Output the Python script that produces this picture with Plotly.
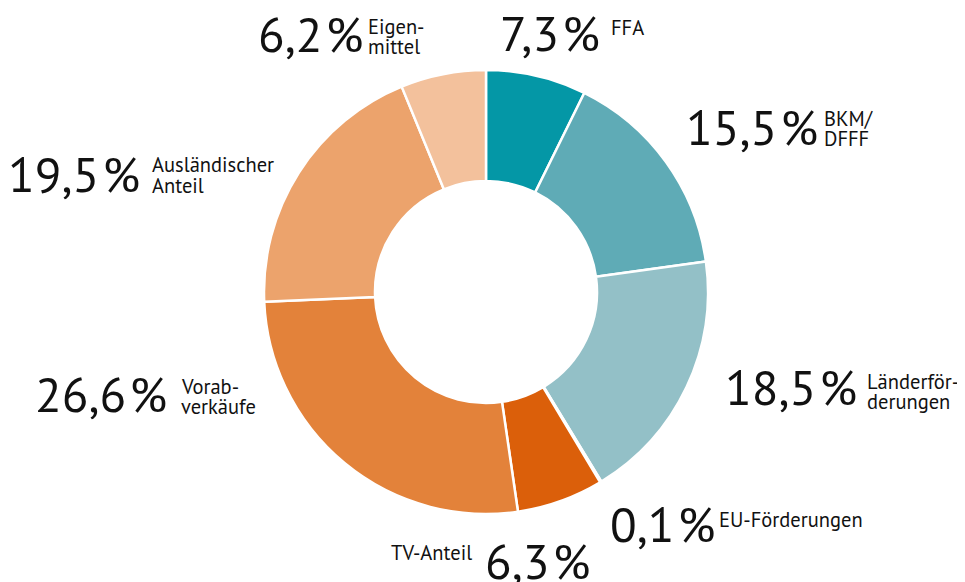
import plotly.graph_objects as go

categories = ["FFA", "BKM/<br>DFFF", "Länderför-<br>derungen", "EU-Förderungen",
              "TV-Anteil", "Vorab-<br>verkäufe", "Ausländischer<br>Anteil", "Eigen-<br>mittel"]
values = [7.3, 15.5, 18.5, 0.1, 6.3, 26.6, 19.5, 6.2]
colors = ["#0497a6", "#5fabb6", "#93c0c7", "#b9d7db",
          "#db5f0a", "#e3823a", "#eca36c", "#f3c19c"]

W, H = 965, 582
OFF = 8  # page body margin
# annotation layout in page pixels:
# (number x-left, number y-center, label x, first label line y-center, label anchor)
label_pos = [
    (499, 33, 610, 27, "left"),
    (685, 127, 823, 117, "left"),
    (724, 387, 866, 380, "left"),
    (609, 524, 718, 518, "left"),
    (484, 561, 473, 551, "right"),
    (34, 394, 180, 385, "left"),
    (7, 174, 151, 164, "left"),
    (257, 34, 367, 26, "left"),
]
LINE = 20

cx, cy, r = 486 - OFF, 292 - OFF, 222

fig = go.Figure(go.Pie(
    values=values, labels=[c.replace("<br>", "") for c in categories],
    marker=dict(colors=colors, line=dict(color="white", width=2.5)),
    hole=0.5, sort=False, direction="clockwise", rotation=0,
    textinfo="none", hoverinfo="label+percent", showlegend=False,
    domain=dict(x=[(cx - r) / W, (cx + r) / W], y=[1 - (cy + r) / H, 1 - (cy - r) / H]),
))

FONT = "PT Sans, Noto Sans, sans-serif"
anns = []
for cat, v, (nx, ny, lx, ly, anc) in zip(categories, values, label_pos):
    txt = f"{v:.1f}".replace(".", ",") + "\u200a%"
    anns.append(dict(text=txt, x=(nx - OFF) / W, y=1 - (ny - OFF) / H, xref="paper", yref="paper",
                     xanchor="left", yanchor="middle", showarrow=False, borderpad=0,
                     font=dict(family=FONT, size=49, color="#111")))
    for i, line in enumerate(cat.split("<br>")):
        anns.append(dict(text=line, x=(lx - OFF) / W, y=1 - (ly + i * LINE + 1 - OFF) / H,
                         xref="paper", yref="paper", xanchor=anc, yanchor="middle",
                         borderpad=0, showarrow=False,
                         font=dict(family=FONT, size=20.5, color="#111")))

fig.update_layout(width=W, height=H, margin=dict(l=0, r=0, t=0, b=0),
                  paper_bgcolor="white", plot_bgcolor="white", annotations=anns)
fig.write_html("out.html")
